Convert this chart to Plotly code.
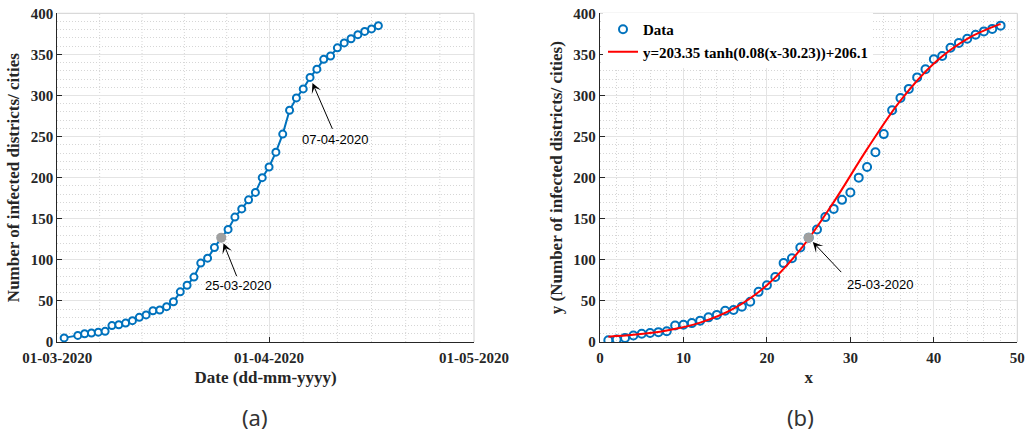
import plotly.graph_objects as go

# ---------------- data ----------------
values = [2, 3, 5, 8, 10, 11, 12, 13, 20, 21, 23, 26, 30, 33, 38, 39, 43, 49, 61, 69,
          79, 96, 102, 115, 127, 137, 152, 162, 173, 182, 200, 213, 231, 253, 282, 297,
          308, 322, 332, 344, 348, 358, 364, 369, 374, 378, 381, 385]
x_index = list(range(1, 49))

dates = (["2020-03-02"]
         + [f"2020-03-{d:02d}" for d in range(4, 32)]
         + [f"2020-04-{d:02d}" for d in range(1, 18)])
left_values = values[2:]

fit_x = [1, 4, 8, 12, 16, 20, 24, 28, 32, 36, 40, 44, 48]
fit_y = [6.5, 8.7, 14.1, 23.6, 40.6, 69.1, 112.4, 170.2, 234.7, 293.8, 339.0, 369.0, 387.1]
fit_label = "y=203.35 tanh(0.08(x-30.23))+206.1"

highlight_x = 25
highlight_value = values[highlight_x - 1]
highlight_date = "2020-03-25"
highlight_label = "25-03-2020"
peak_date = "2020-04-07"
peak_value = values[37]
peak_label = "07-04-2020"

date_ticks = ["2020-03-01", "2020-04-01", "2020-05-01"]
date_ticktext = ["01-03-2020", "01-04-2020", "01-05-2020"]
date_minor = ["2020-03-07 04:48", "2020-03-13 09:36", "2020-03-19 14:24", "2020-03-25 19:12",
              "2020-04-06", "2020-04-11", "2020-04-16", "2020-04-21", "2020-04-26"]

# ---------------- style ----------------
SERIF = "Liberation Serif, Times New Roman, serif"
SANS = "Liberation Sans, Arial, sans-serif"
BLUE = "#0072BD"
DARK = "#262626"
GREY = "#a0a0a0"
MINOR = "#d6d6d6"
DOT = "1px,2px"

W, H = 1026, 433


def px_x(p):
    return p / W


def px_y(p):
    return 1 - p / H


fig = go.Figure()

# left panel
fig.add_trace(go.Scatter(x=dates, y=left_values, mode="lines+markers",
                         line=dict(color=BLUE, width=2),
                         marker=dict(symbol="circle", size=7, color="white",
                                     line=dict(color=BLUE, width=2)),
                         showlegend=False, xaxis="x", yaxis="y"))
fig.add_trace(go.Scatter(x=[highlight_date], y=[highlight_value], mode="markers",
                         marker=dict(symbol="circle", size=10, color=GREY),
                         showlegend=False, xaxis="x", yaxis="y"))

# right panel
fig.add_trace(go.Scatter(x=x_index, y=values, mode="markers", name="Data",
                         marker=dict(symbol="circle-open", size=8, color=BLUE,
                                     line=dict(color=BLUE, width=2)),
                         xaxis="x2", yaxis="y2"))
fig.add_trace(go.Scatter(x=fit_x, y=fit_y, mode="lines", name=fit_label,
                         line=dict(color="#ff0000", width=2, shape="spline"),
                         xaxis="x2", yaxis="y2"))
fig.add_trace(go.Scatter(x=[highlight_x], y=[highlight_value], mode="markers",
                         marker=dict(symbol="circle", size=10, color=GREY),
                         showlegend=False, xaxis="x2", yaxis="y2"))

tickfont = dict(family=SERIF, size=15, color=DARK, weight="bold")
titlefont = dict(family=SERIF, size=17, color=DARK, weight="bold")

common = dict(showline=True, linecolor=DARK, linewidth=1.3, mirror=False,
              ticks="inside", ticklen=5, tickwidth=1, tickcolor=DARK,
              showgrid=True, gridcolor="#e4e4e4", gridwidth=1, zeroline=False,
              tickfont=tickfont, ticklabeloverflow="allow", automargin=False)
yminor = dict(showgrid=True, gridcolor=MINOR, griddash=DOT, gridwidth=1,
              dtick=10, tick0=0)

L0, L1 = px_x(57.3), px_x(474)
R0, R1 = px_x(600), px_x(1017.3)
B, T = px_y(342), px_y(13.3)

fig.update_layout(
    width=W, height=H,
    margin=dict(l=0, r=0, t=0, b=0, autoexpand=False),
    paper_bgcolor="white", plot_bgcolor="white",
    xaxis=dict(domain=[L0, L1], type="date", range=["2020-03-01", "2020-05-01"],
               tickmode="array", tickvals=date_ticks, ticktext=date_ticktext,
               ticklabelstandoff=2,
               title=dict(text="Date (dd-mm-yyyy)", font=titlefont, standoff=5),
               anchor="y", **common),
    yaxis=dict(domain=[B, T], range=[0, 400], dtick=50, minor=yminor,
               title=dict(text="Number of infected districts/ cities", font=titlefont, standoff=6),
               anchor="x", **common),
    xaxis2=dict(domain=[R0, R1], range=[0, 50], dtick=10,
                minor=dict(showgrid=True, gridcolor=MINOR, griddash=DOT, dtick=2, tick0=0),
                ticklabelstandoff=2,
                title=dict(text="x", font=titlefont, standoff=5),
                anchor="y2", **common),
    yaxis2=dict(domain=[B, T], range=[0, 400], dtick=50, minor=yminor,
                title=dict(text="y (Number of infected districts/ cities)", font=titlefont, standoff=6),
                anchor="x2", **common),
    legend=dict(x=px_x(603), y=px_y(13), xanchor="left", yanchor="top",
                bgcolor="white", borderwidth=0, itemwidth=30,
                font=dict(family=SERIF, size=15, color="black", weight="bold"),
                tracegroupgap=0),
)

# minor dotted date gridlines (left panel)
for d in date_minor:
    fig.add_shape(type="line", xref="x", yref="y domain", x0=d, x1=d, y0=0, y1=1,
                  line=dict(color=MINOR, width=1, dash=DOT), layer="below")

# light box edges (top/right)
for xa, ya in (("x", "y"), ("x2", "y2")):
    fig.add_shape(type="line", xref=f"{xa} domain", yref=f"{ya} domain",
                  x0=0, x1=1, y0=1, y1=1, line=dict(color="#d0d0d0", width=1), layer="above")
    fig.add_shape(type="line", xref=f"{xa} domain", yref=f"{ya} domain",
                  x0=1, x1=1, y0=0, y1=1, line=dict(color="#d0d0d0", width=1), layer="above")

arrow = dict(showarrow=True, arrowhead=3, arrowsize=1.7, arrowwidth=1, arrowcolor="black",
             standoff=6, text="", axref="pixel", ayref="pixel")
afont = dict(family=SANS, size=13, color="black")

# left annotations
fig.add_annotation(x=highlight_date, y=highlight_value, xref="x", yref="y",
                   ax=16, ay=40, **arrow)
fig.add_annotation(x=highlight_date, y=highlight_value, xref="x", yref="y", showarrow=False,
                   text=highlight_label, font=afont, xshift=17.5, yshift=-48)
fig.add_annotation(x=peak_date, y=peak_value, xref="x", yref="y",
                   ax=23, ay=53, **arrow)
fig.add_annotation(x=peak_date, y=peak_value, xref="x", yref="y", showarrow=False,
                   text=peak_label, font=afont, xshift=25.6, yshift=-62)

# right annotation
fig.add_annotation(x=highlight_x, y=highlight_value, xref="x2", yref="y2",
                   ax=34, ay=36, **arrow)
fig.add_annotation(x=highlight_x, y=highlight_value, xref="x2", yref="y2", showarrow=False,
                   text=highlight_label, font=afont, xshift=72, yshift=-46.5)

# panel labels
for lbl, px in (("(a)", 255), ("(b)", 800)):
    fig.add_annotation(x=px_x(px), y=px_y(417), xref="paper", yref="paper",
                       xanchor="center", yanchor="middle", showarrow=False, text=lbl,
                       font=dict(family="Noto Sans, sans-serif", size=22, color="#333333"))

fig.write_html("out.html", config={"displayModeBar": False},
               post_script="document.body.style.margin='0';")
